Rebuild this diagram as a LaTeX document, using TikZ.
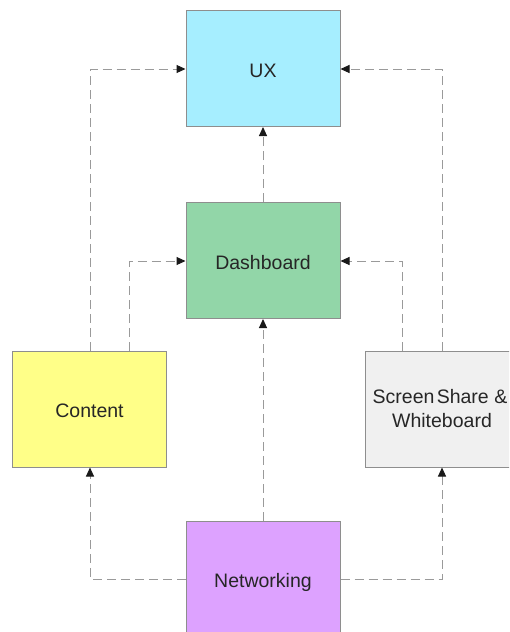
\documentclass[tikz,border=0pt]{standalone}
\usepackage{fontspec}
\setmainfont{Liberation Sans}
\usetikzlibrary{arrows.meta}
\definecolor{uxc}{HTML}{A6EEFF}
\definecolor{dbc}{HTML}{92D6A8}
\definecolor{ctc}{HTML}{FFFF88}
\definecolor{ssc}{HTML}{F0F0F0}
\definecolor{nwc}{HTML}{DDA2FF}
\definecolor{bordc}{HTML}{8E8E8E}
\definecolor{linec}{HTML}{9A9A9A}
\tikzset{
  box/.style={draw=bordc, line width=1pt, minimum width=154pt, minimum height=116pt,
    inner sep=0pt, align=center, font=\fontsize{19.5pt}{24pt}\selectfont, text=black!85},
  oneline/.style={text height=17pt, text depth=0pt},
  conn/.style={draw=linec, line width=1pt, dash pattern=on 9pt off 5pt,
    -{Triangle[length=9pt,width=8pt,black!90,fill=black!90]}}
}
\begin{document}
\begin{tikzpicture}[x=1pt,y=-1pt]
\useasboundingbox (0,0) rectangle (509,632);
\clip (0,0) rectangle (509,632);
\node[box, oneline, fill=uxc] (ux) at (263,68.5) {UX};
\node[box, oneline, fill=dbc] (db) at (263,260.5) {Dashboard};
\node[box, oneline, fill=ctc] (ct) at (89.5,409) {Content};
\node[box, fill=ssc] (ss) at (442,409) {\hspace*{-4pt}Screen\hspace{0.12em}Share \&\\Whiteboard};
\node[box, oneline, fill=nwc] (nw) at (263,579) {Networking};
\coordinate (c1) at (90,69);
\coordinate (c2) at (129,261);
\coordinate (s1) at (442,69);
\coordinate (s2) at (402,261);
\coordinate (n1) at (90,579);
\coordinate (n2) at (442,579);
\draw[conn] (ct.north -| c1) |- (ux.west |- c1);
\draw[conn] (ct.north -| c2) |- (db.west |- c2);
\draw[conn] (db.north) -- (ux.south);
\draw[conn] (ss.north -| s1) |- (ux.east |- s1);
\draw[conn] (ss.north -| s2) |- (db.east |- s2);
\draw[conn] (nw.north) -- (db.south);
\draw[conn] (nw.west) -| (ct.south -| n1);
\draw[conn] (nw.east) -| (ss.south -| n2);
\end{tikzpicture}
\end{document}
